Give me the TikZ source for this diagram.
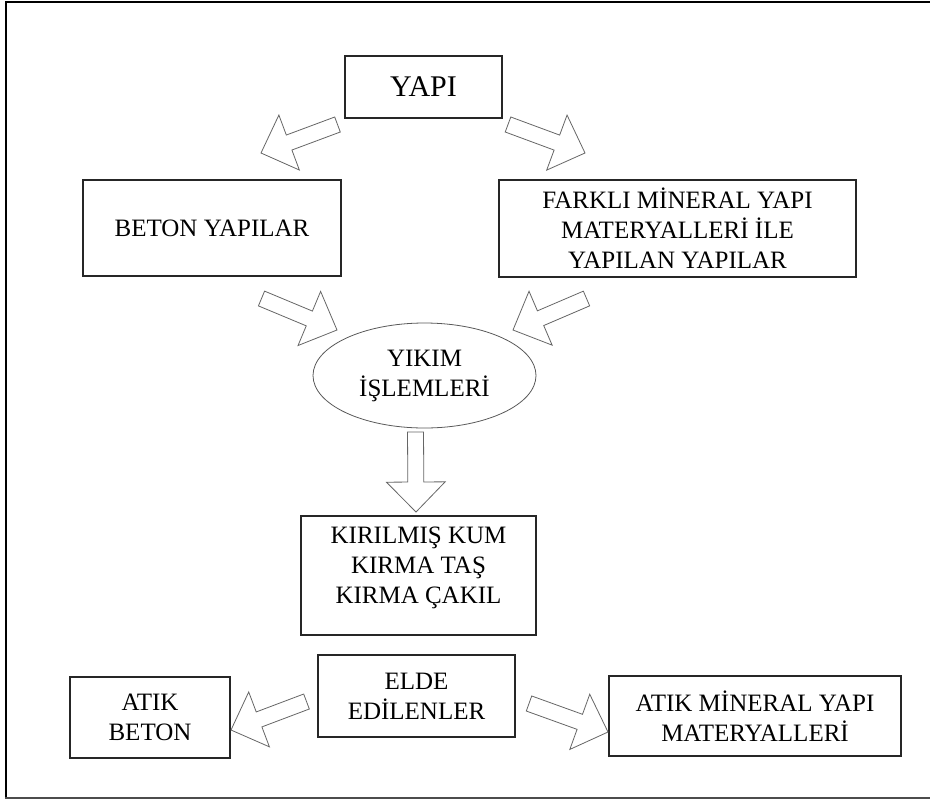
\documentclass[tikz,border=0pt]{standalone}
\usepackage{fontspec}
\setmainfont{Liberation Serif}
\usetikzlibrary{calc,shapes.geometric}

\newcommand{\shaftw}{6pt}
\newcommand{\headw}{22pt}
\newcommand{\headl}{22.5pt}

\tikzset{
  box/.style={draw=black!85, line width=1pt, rectangle, inner sep=0pt, align=center,
    text=black, font=\fontsize{18.75}{22.5}\selectfont},
  oval/.style={box, ellipse, draw=black!65, line width=0.6pt},
  fatarrow/.style={draw=black!60, line width=0.6pt, fill=white, line join=miter,
    to path={($(\tikztotarget)!\headl!(\tikztostart)$) coordinate (nk)
      ($(\tikztostart)!\shaftw!90:(\tikztotarget)$) -- ($(nk)!\shaftw!90:(\tikztotarget)$)
      -- ($(nk)!\headw!90:(\tikztotarget)$) -- (\tikztotarget)
      -- ($(nk)!\headw!-90:(\tikztotarget)$) -- ($(nk)!\shaftw!-90:(\tikztotarget)$)
      -- ($(\tikztostart)!\shaftw!-90:(\tikztotarget)$) -- cycle}},
}

\begin{document}
\begin{tikzpicture}[x=0.75pt,y=0.75pt,yscale=-1,xscale=1]
  \useasboundingbox (0,0) rectangle (930,800);

  %Frame
  \draw [line width=1.5pt] (931,2) -- (6,2) -- (6,797);
  \draw [black!70, line width=2.2pt] (5,798) -- (931,798);

  %Boxes
  \node [box, minimum width=117.75pt, minimum height=46.5pt, font=\fontsize{22.5}{27}\selectfont] (yapi) at (423.5,87) {YAPI};
  \node [box, minimum width=193.5pt, minimum height=72pt] (beton) at (212,228) {BETON YAPILAR};
  \node [box, minimum width=267.75pt, minimum height=72.75pt] (farkli) at (677.5,228.5) {FARKLI MİNERAL YAPI\\MATERYALLERİ İLE\\YAPILAN YAPILAR};
  \node [oval, minimum width=167.25pt, minimum height=78.75pt] (yikim) at (424.5,375.5) {YIKIM\\İŞLEMLERİ};
  \node [box, minimum width=176.25pt, minimum height=89.25pt] (kirilmis) at (418.5,575.5) {};
  \node [box, draw=none] (kiriltext) at (418.5,568) {KIRILMIŞ KUM\\KIRMA TAŞ\\KIRMA ÇAKIL};
  \node [box, minimum width=147.75pt, minimum height=61.5pt] (elde) at (416.5,696) {ELDE\\EDİLENLER};
  \node [box, minimum width=120pt, minimum height=60.75pt] (atikbeton) at (150,717.5) {ATIK\\BETON};
  \node [box, minimum width=219pt, minimum height=60pt] (atikmineral) at (755,716) {ATIK MİNERAL YAPI\\MATERYALLERİ};

  %Arrow ends
  \coordinate (y1) at (337.5,124.5);  \coordinate (b1) at (261,153);
  \coordinate (y2) at (508,124.5);    \coordinate (f1) at (585,153);
  \coordinate (b2) at (261.5,298.5);  \coordinate (k1) at (337,330);
  \coordinate (f2) at (586.5,298.5);  \coordinate (k2) at (513,330);
  \coordinate (k3) at (415.5,432);    \coordinate (r1) at (416,512);
  \coordinate (e1) at (306.5,701.5);  \coordinate (t1) at (231,730);
  \coordinate (e2) at (529,703.5);    \coordinate (t2) at (608,732);

  %Block arrows
  \draw [fatarrow] (y1) to (b1);
  \draw [fatarrow] (y2) to (f1);
  \draw [fatarrow] (b2) to (k1);
  \draw [fatarrow] (f2) to (k2);
  \draw [fatarrow] (k3) to (r1);
  \draw [fatarrow] (e1) to (t1);
  \draw [fatarrow] (e2) to (t2);
\end{tikzpicture}
\end{document}
